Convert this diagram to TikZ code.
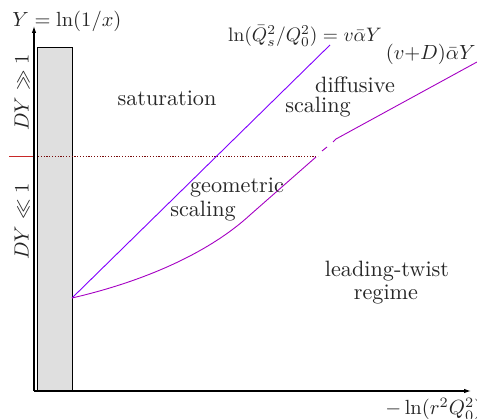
\documentclass[tikz,border=0pt]{standalone}
\usetikzlibrary{arrows.meta}
\definecolor{lineA}{RGB}{128,0,255}
\definecolor{lineB}{RGB}{165,0,195}
\definecolor{redline}{RGB}{200,40,40}
\definecolor{dotline}{RGB}{120,10,10}
\tikzset{
  axis/.style={line width=1.1pt,-{Latex[length=7pt,width=4.5pt]}},
  lbl/.style={inner sep=0pt,scale=2.22,transform shape,text=black!85},
  mlbl/.style={inner sep=0pt,scale=2.05,transform shape,text=black!85},
  curveA/.style={line width=0.9pt,lineA},
  curveB/.style={line width=0.9pt,lineB},
}
\begin{document}
\begin{tikzpicture}[x=1pt,y=-1pt]
\useasboundingbox (0,0) rectangle (477,419);
% bar
\fill[gray!25] (37,47) rectangle (72,391);
\draw[line width=0.8pt] (37,391) -- (37,47) -- (72,47) -- (72,391);
% coordinates
\coordinate (O) at (34,391);
\coordinate (ytip) at (34,26);
\coordinate (xtip) at (471,391);
\coordinate (S) at (72,298);
\coordinate (Atop) at (330,45);
\coordinate (B1) at (250,215);
\coordinate (B2) at (316,157);
\coordinate (B3) at (322,151);
\coordinate (B4) at (327,147);
\coordinate (B5) at (333,142);
\coordinate (B6) at (336,139);
\coordinate (B7) at (477,62);
\coordinate (H0) at (9,156);
\coordinate (H1) at (34,156);
\coordinate (H2) at (38,156);
\coordinate (H3) at (318,156);
% horizontal marker
\draw[redline,line width=0.9pt] (H0) -- (H1);
\draw[dotline,line width=0.8pt,dash pattern=on 1.2pt off 1.6pt] (H2) -- (H3);
% curves
\draw[curveA] (S) -- (Atop);
\draw[curveB] (S) .. controls (150,280) and (212,250) .. (B1) -- (B2);
\draw[curveB] (B3) -- (B4);
\draw[curveB] (B5) -- (B6) -- (B7);
% axes
\draw[axis] (O) -- (ytip);
\draw[axis] (O) -- (xtip);
% labels
\node[mlbl,anchor=base west] (ylab) at (12,26.5) {$Y=\ln(1/x)$};
\node[mlbl,anchor=base west] (xlab) at (385,415) {$-\ln(r^2Q_0^2)$};
\node[mlbl,rotate=90,anchor=base] (dy1) at (28.5,92.5) {$DY\gg1$};
\node[mlbl,rotate=90,anchor=base] (dy2) at (28.5,221.5) {$DY\ll1$};
\node[lbl,anchor=base] (sat) at (167,106) {saturation};
\node[mlbl,scale=0.95,anchor=base] (qs) at (305,41.5) {$\ln(\bar Q_s^2/Q_0^2)=v\bar\alpha Y$};
\node[mlbl,anchor=base east] (vd) at (476,60) {$(v{+}D)\bar\alpha Y$};
\node[lbl,anchor=base] (diff) at (355,93) {diffusive};
\node[lbl,anchor=base] (sc1) at (318,113) {scaling};
\node[lbl,anchor=base] (geo) at (237,193) {geometric};
\node[lbl,anchor=base] (sc2) at (203,217) {scaling};
\node[lbl,anchor=base] (lt) at (387,277) {leading-twist};
\node[lbl,anchor=base] (reg) at (386,300) {regime};
\end{tikzpicture}
\end{document}
